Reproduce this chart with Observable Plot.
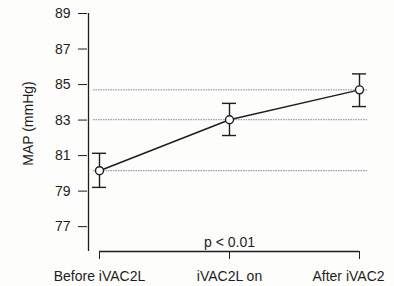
<!DOCTYPE html>
<html><head><meta charset="utf-8">
<script src="https://cdn.jsdelivr.net/npm/d3@7"></script>
<script src="https://cdn.jsdelivr.net/npm/@observablehq/plot@0.6"></script>
<style>
html,body{margin:0;padding:0;background:#fdfdfb;}
</style>
</head><body>
<div id="chart"></div>
<script>
const categories = ["Before iVAC2L", "iVAC2L on", "After iVAC2"];
const meanValues = [80.15, 83.02, 84.7];
const upperValues = [81.13, 83.94, 85.6];
const lowerValues = [79.21, 82.13, 83.76];
const yTicks = [77, 79, 81, 83, 85, 87, 89];
const pLabel = "p < 0.01";
const yLabel = "MAP (mmHg)";

const data = categories.map((c, i) => ({cat: c, mean: meanValues[i], hi: upperValues[i], lo: lowerValues[i]}));
const yMin = 75.6, yMax = 89;
const font = "Liberation Sans, Arial, sans-serif";
const ink = "#1e1e1e";

const chart = Plot.plot({
  width: 394,
  height: 286,
  marginTop: 13,
  marginBottom: 35,
  marginLeft: 87,
  marginRight: 26,
  style: {background: "#fdfdfb", fontFamily: font, fontSize: "14px", color: ink},
  x: {type: "point", domain: categories, range: [98, 359], padding: 0},
  y: {domain: [yMin, yMax]},
  marks: [
    // dotted reference lines at means
    Plot.ruleY(data, {y: "mean", stroke: "#7d869c", strokeWidth: 1, strokeDasharray: "1.5 1", insetLeft: 6, insetRight: 0}),
    // y axis
    Plot.axisY({ticks: yTicks, tickSize: 9, tickPadding: 8, label: null, stroke: ink, fill: ink, fontSize: 14}),
    Plot.ruleX([categories[0]], {dx: -11, stroke: ink, strokeWidth: 1.3}),
    // x axis line & ticks
    Plot.ruleY([yMin], {x1: () => categories[0], x2: () => categories[categories.length - 1], stroke: ink, strokeWidth: 1.3}),
    Plot.axisX({ticks: categories.slice(0, 2), tickSize: 8, tickPadding: 12, label: null, stroke: ink, fill: ink, fontSize: 14}),
    Plot.axisX({ticks: categories.slice(2), tickSize: 8, tickPadding: 12, label: null, stroke: ink, fill: ink, fontSize: 14, tickFormat: () => ""}),
    Plot.axisX({ticks: categories.slice(2), tickSize: 0, tickPadding: 20, label: null, stroke: "none", fill: ink, fontSize: 14, dx: -11}),
    // error bars
    Plot.link(data, {x1: "cat", x2: "cat", y1: "lo", y2: "hi", stroke: ink, strokeWidth: 1.4}),
    Plot.ruleY(data, {x1: "cat", x2: "cat", y: "hi", insetLeft: -7, insetRight: -7, stroke: ink, strokeWidth: 1.4}),
    Plot.ruleY(data, {x1: "cat", x2: "cat", y: "lo", insetLeft: -7, insetRight: -7, stroke: ink, strokeWidth: 1.4}),
    // mean line
    Plot.line(data, {x: "cat", y: "mean", stroke: ink, strokeWidth: 1.5}),
    Plot.dot(data, {x: "cat", y: "mean", r: 4, stroke: ink, fill: "#fdfdfb", strokeWidth: 1.4}),
    // p label
    Plot.text([pLabel], {x: () => categories[1], y: null, frameAnchor: "bottom", dy: -5, lineAnchor: "bottom", text: d => d, fill: ink, fontSize: 14}),
    // y label
    Plot.text([yLabel], {x: null, y: null, frameAnchor: "left", textAnchor: "middle", dx: -59, dy: -9, rotate: -90, text: d => d, fill: ink, fontSize: 14})
  ]
});
document.getElementById("chart").appendChild(chart);
</script>
</body></html>
